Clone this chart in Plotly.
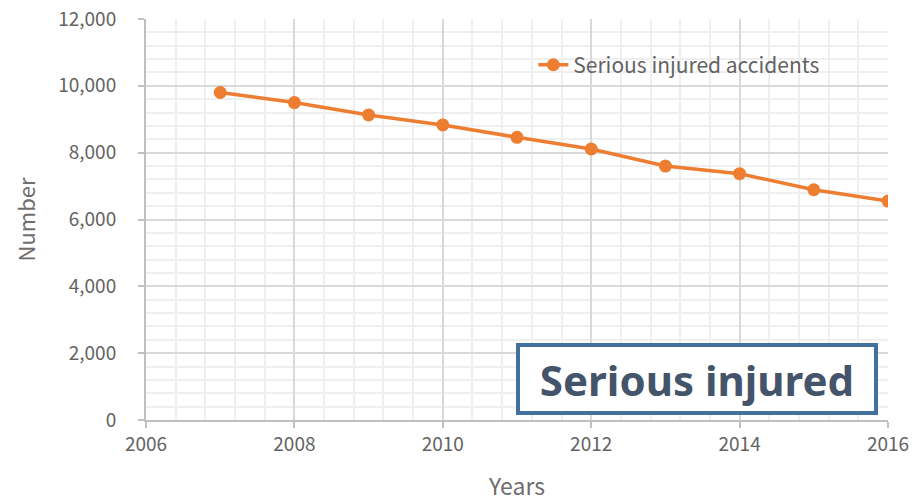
import plotly.graph_objects as go

years = [2007, 2008, 2009, 2010, 2011, 2012, 2013, 2014, 2015, 2016]
serious_injured = [9800, 9500, 9130, 8830, 8460, 8110, 7600, 7370, 6890, 6550]

FONT = "Noto Sans CJK JP"
GREY = "#636363"

fig = go.Figure()
fig.add_trace(go.Scatter(
    x=years, y=serious_injured,
    mode="lines+markers",
    name="Serious injured accidents",
    line=dict(color="#ED7D31", width=3.5),
    marker=dict(color="#ED7D31", size=13),
))

fig.update_layout(
    width=922, height=502,
    margin=dict(l=146, r=34, t=19, b=82),
    plot_bgcolor="white", paper_bgcolor="white",
    font=dict(family=FONT, color=GREY, size=19),
    showlegend=True,
    legend=dict(x=0.522, y=0.885, xanchor="left", yanchor="middle",
                bgcolor="rgba(0,0,0,0)", font=dict(size=21, color=GREY)),
    xaxis=dict(
        range=[2006, 2016], dtick=2, tick0=2006, automargin=False,
        ticklabeloverflow="allow",
        showgrid=True, gridcolor="#d9d9d9", gridwidth=1.5,
        minor=dict(dtick=0.4, showgrid=True, gridcolor="#efefef", gridwidth=1.5),
        showline=True, linecolor="#bfbfbf", linewidth=2,
        ticks="outside", ticklen=6, tickcolor="#bfbfbf", tickwidth=2,
        zeroline=False,
        title=dict(text="Years", font=dict(size=23, color="#6e6e6e"), standoff=35),
    ),
    yaxis=dict(
        range=[0, 12000], dtick=2000, tickformat=",", automargin=False,
        ticklabeloverflow="allow",
        showgrid=True, gridcolor="#d9d9d9", gridwidth=1.5,
        minor=dict(dtick=400, showgrid=True, gridcolor="#efefef", gridwidth=1.5),
        showline=True, linecolor="#bfbfbf", linewidth=2,
        ticks="outside", ticklen=6, tickcolor="#bfbfbf", tickwidth=2,
        ticklabelstandoff=18,
        zeroline=False,
        title=dict(text="Number", font=dict(size=22, color="#6e6e6e"), standoff=16),
    ),
)

fig.add_annotation(
    xref="paper", yref="paper", x=0.7426, y=0.101,
    xanchor="center", yanchor="middle",
    text="<b>Serious injured</b>", showarrow=False,
    font=dict(family="Noto Sans", size=42, color="#44546A"),
    bgcolor="white", bordercolor="#41719C", borderwidth=4,
    width=352, height=62,
)

# drop the default 8px body margin so the figure sits at the window corner
fig.write_html("out.html", config={"displayModeBar": False},
               post_script="document.body.style.margin='0';")
